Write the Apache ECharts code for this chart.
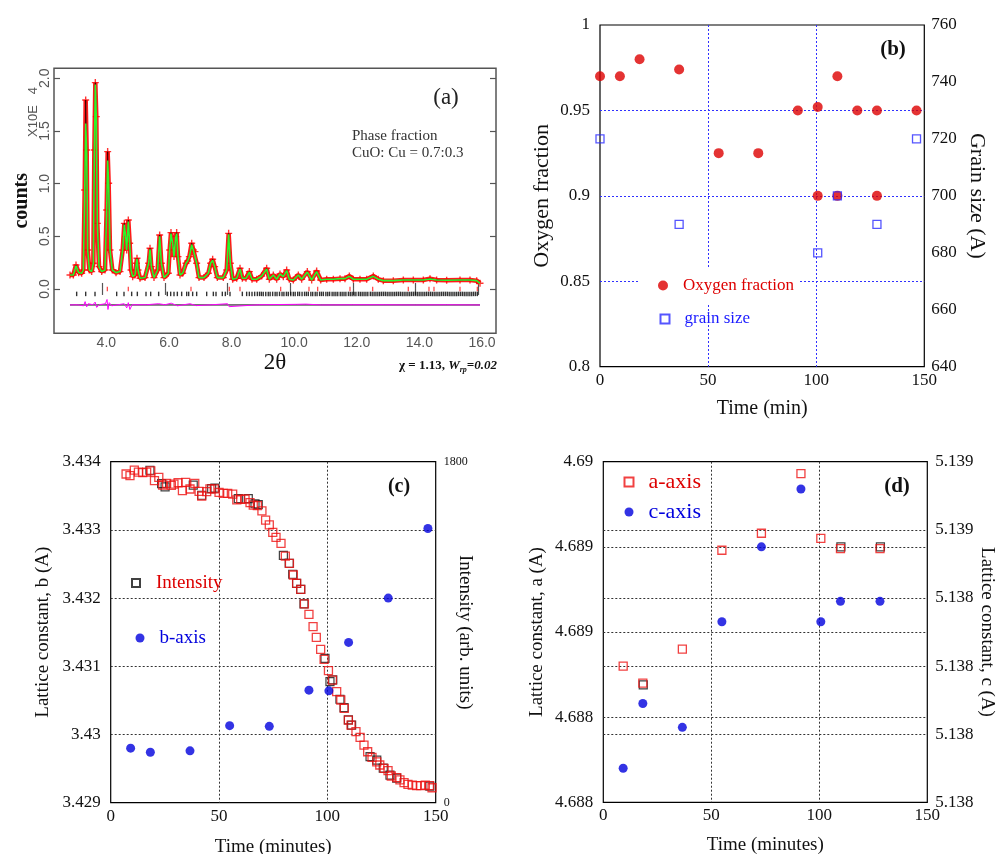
<!DOCTYPE html>
<html><head><meta charset="utf-8">
<script src="https://cdn.jsdelivr.net/npm/echarts@6/dist/echarts.min.js"></script>
<style>html,body{margin:0;padding:0;background:#fff}#c{width:996px;height:854px}</style>
</head><body><div id="c"></div>
<script>
// ===== Panel (a): powder diffraction refinement =====
const obs2Theta = [2.967,3.074,3.159,3.244,3.340,3.393,3.436,3.468,3.500,3.532,3.585,3.659,3.713,3.745,3.776,3.808,3.840,3.894,3.979,4.085,
  4.138,4.170,4.202,4.245,4.319,4.437,4.564,4.650,4.703,4.745,4.777,4.830,4.873,4.916,4.969,5.043,5.086,5.107,5.139,5.203,
  5.363,5.480,5.523,5.565,5.650,5.767,5.831,5.885,5.970,6.108,6.151,6.193,6.246,6.289,6.342,6.374,6.417,6.481,6.566,6.672,
  6.726,6.779,6.854,6.907,6.960,7.013,7.088,7.247,7.386,7.460,7.524,7.588,7.673,7.865,7.972,8.035,8.089,8.163,8.291,8.398,
  8.472,8.589,8.696,8.781,8.930,9.090,9.249,9.334,9.462,9.569,9.675,9.782,9.888,9.973,10.101,10.261,10.367,10.548,10.687,10.846,
  10.974,11.166,11.379,11.592,11.751,11.890,12.018,12.230,12.443,12.656,12.816,12.976,13.295,13.615,13.934,14.254,14.467,14.679,14.999,15.425,
  15.744,15.957,16.064];
const obsCounts = [0.133,0.133,0.228,0.155,0.149,0.180,0.940,1.794,1.320,0.370,0.180,0.165,0.244,1.320,1.959,1.636,0.623,0.212,0.165,0.180,
  0.750,1.304,1.003,0.370,0.180,0.155,0.165,0.370,0.623,0.497,0.370,0.655,0.434,0.180,0.117,0.133,0.244,0.291,0.180,0.101,
  0.108,0.244,0.386,0.212,0.108,0.180,0.513,0.244,0.108,0.149,0.370,0.535,0.434,0.307,0.497,0.535,0.307,0.133,0.149,0.244,
  0.266,0.307,0.434,0.370,0.354,0.244,0.108,0.108,0.149,0.244,0.282,0.212,0.108,0.108,0.180,0.528,0.244,0.092,0.101,0.196,
  0.101,0.101,0.165,0.092,0.092,0.123,0.196,0.092,0.133,0.092,0.142,0.117,0.180,0.092,0.085,0.133,0.092,0.165,0.085,0.171,
  0.085,0.092,0.092,0.098,0.098,0.123,0.092,0.092,0.092,0.123,0.092,0.079,0.079,0.085,0.085,0.085,0.098,0.085,0.082,0.085,
  0.085,0.079,0.054];
const calcCounts = [0.133,0.133,0.220,0.155,0.149,0.180,0.900,1.570,1.300,0.370,0.180,0.165,0.244,1.300,1.940,1.620,0.623,0.212,0.165,0.180,
  0.740,1.220,1.000,0.370,0.180,0.155,0.165,0.370,0.610,0.497,0.370,0.640,0.434,0.180,0.117,0.133,0.244,0.285,0.180,0.101,
  0.108,0.244,0.376,0.212,0.108,0.180,0.500,0.244,0.108,0.149,0.370,0.525,0.434,0.307,0.490,0.525,0.307,0.133,0.149,0.244,
  0.266,0.307,0.420,0.370,0.354,0.244,0.108,0.108,0.149,0.244,0.272,0.212,0.108,0.108,0.180,0.520,0.244,0.092,0.101,0.190,
  0.101,0.101,0.160,0.092,0.092,0.123,0.190,0.092,0.133,0.092,0.142,0.117,0.175,0.092,0.085,0.133,0.092,0.160,0.085,0.165,
  0.085,0.092,0.092,0.098,0.098,0.120,0.092,0.092,0.092,0.120,0.092,0.079,0.079,0.085,0.085,0.085,0.095,0.085,0.082,0.085,
  0.085,0.079,0.054];
const diff2Theta = [2.967,3.20,3.40,3.45,3.50,3.55,3.70,3.77,3.82,3.90,4.10,4.15,4.18,4.22,4.30,4.50,4.70,4.78,4.83,4.88,
  4.95,5.40,5.80,6.00,6.20,6.40,6.80,7.00,7.50,8.00,8.05,8.10,9.00,10.20,10.50,11.00,12.00,13.00,14.00,15.00,16.064];
const diffCounts = [-0.152,-0.150,-0.160,-0.120,-0.170,-0.140,-0.150,-0.125,-0.175,-0.150,-0.140,-0.100,-0.195,-0.130,-0.160,-0.150,-0.140,-0.180,-0.130,-0.195,
  -0.150,-0.150,-0.140,-0.150,-0.135,-0.160,-0.140,-0.158,-0.150,-0.140,-0.168,-0.150,-0.150,-0.146,-0.144,-0.152,-0.150,-0.150,-0.152,-0.150,-0.152];
const diffBaseline = -0.152;
const cuReflections = [4.160,4.830,6.832,8.057,8.397,9.696,10.601,10.878,11.911,12.635,13.774,14.434,14.594,15.425,15.979];
const cuoReflections = [3.180,3.468,3.766,4.458,4.692,4.937,5.118,5.395,5.544,5.799,6.076,6.183,6.289,6.396,6.534,6.694,6.758,6.885,7.013,7.333,
  7.546,7.631,7.833,7.929,8.078,8.472,8.610,8.696,8.781,8.866,8.951,9.02,9.08,9.14,9.22,9.30,9.36,9.44,9.52,9.58,
  9.66,9.74,9.80,9.88,9.94,10.02,10.10,10.16,10.24,10.30,10.38,10.46,10.52,10.58,10.66,10.72,10.80,10.86,10.94,11.00,
  11.06,11.14,11.20,11.26,11.34,11.40,11.46,11.52,11.60,11.66,11.72,11.78,11.86,11.92,11.98,12.04,12.10,12.18,12.24,12.30,
  12.36,12.42,12.48,12.56,12.62,12.68,12.74,12.80,12.86,12.92,12.98,13.04,13.10,13.16,13.22,13.28,13.34,13.40,13.46,13.52,
  13.58,13.64,13.70,13.76,13.82,13.88,13.94,14.00,14.06,14.12,14.18,14.24,14.30,14.36,14.42,14.48,14.54,14.60,14.66,14.72,
  14.78,14.84,14.90,14.96,15.02,15.08,15.14,15.20,15.26,15.32,15.38,15.44,15.50,15.56,15.62,15.68,15.74,15.80,15.86,15.92,15.98];
const cuTickLevel = 0.0;
const cuoTickLevel = -0.047;
const aXTicks = [4,6,8,10,12,14,16];
const aXTickLabels = ['4.0','6.0','8.0','10.0','12.0','14.0','16.0'];
const aYTicks = [0,0.5,1,1.5,2];
const aYTickLabels = ['0.0','0.5','1.0','1.5','2.0'];

// ===== Panel (b): oxygen fraction & grain size =====
const oxyTime = [0,9.2,18.3,36.6,54.9,73.2,91.5,100.7,100.7,109.8,109.8,119.0,128.1,128.1,146.4];
const oxyFraction = [0.970,0.970,0.980,0.974,0.925,0.925,0.950,0.952,0.900,0.970,0.900,0.950,0.950,0.900,0.950];
const grainTime = [0,36.6,100.7,109.8,128.1,146.4];
const grainSize = [720,690,680,700,690,720];
const bTimeLabels = ['0','50','100','150'];
const bLeftLabels = ['0.8','0.85','0.9','0.95','1'];
const bRightLabels = ['640','660','680','700','720','740','760'];

// ===== Panel (c): b-axis & intensity =====
const bAxisTime = [9.2,18.3,36.6,54.9,73.2,91.5,100.7,109.8,128.1,146.4];
const bAxisValue = [3.42980,3.42974,3.42976,3.43013,3.43012,3.43065,3.43064,3.43135,3.43200,3.43302];
const intRedTime = [7.1,8.9,10.9,12.8,14.8,16.6,18.5,20.2,22.2,24.0,25.8,28.0,29.2,31.1,33.1,34.6,36.6,38.8,40.8,42.0,
  44.3,45.8,47.8,50.0,52.0,54.0,56.3,58.2,60.0,62.0,64.3,65.8,67.7,69.8,71.5,73.2,74.8,76.3,78.6,80.6,
  82.5,84.3,85.8,87.7,89.4,91.5,93.4,94.9,96.9,98.5,100.5,102.3,104.3,106.2,107.8,109.7,110.9,113.2,115.1,116.9,
  118.6,120.6,122.8,124.2,126.2,128.0,129.5,132.0,133.5,135.4,137.2,139.2,141.2,143.1,145.2,147.1,148.3];
const intRedValue = [1735,1726,1756,1745,1742,1745,1752,1700,1717,1677,1686,1675,1682,1689,1647,1691,1656,1686,1643,1619,
  1642,1657,1657,1638,1633,1633,1629,1598,1601,1603,1584,1571,1568,1540,1492,1466,1427,1401,1369,1302,
  1263,1202,1158,1126,1049,994,929,873,809,757,697,647,586,542,498,436,410,375,345,304,
  269,239,216,199,181,169,141,132,120,106,97,93,90,90,93,90,79];
const intBlackTime = [18.1,23.5,25.1,38.1,42.0,46.6,48.1,58.9,63.5,66.6,68.1,79.7,82.4,84.0,85.8,87.7,89.2,98.9,101.2,102.5,
  105.8,107.7,109.7,111.2,119.7,122.8,125.8,128.9,132.0,147.3];
const intBlackValue = [1755,1684,1667,1676,1623,1658,1661,1605,1605,1578,1573,1306,1264,1206,1158,1126,1049,762,639,648,
  546,502,437,410,243,225,183,146,130,88];
const cLeftLabels = ['3.429','3.43','3.431','3.432','3.433','3.434'];
const cRightLabels = ['0','1800'];

// ===== Panel (d): a- and c-axis =====
const dTime = [9.2,18.3,36.6,54.9,73.2,91.5,100.7,109.8,128.1];
const aAxisValue = [4.68880,4.68870,4.68890,4.68948,4.68958,4.68993,4.68955,4.68949,4.68949];
const aBlackTime = [18.5,110.0,128.3];
const aBlackValue = [4.68869,4.68950,4.68950];
const cAxisValue = [5.13790,5.13809,5.13802,5.13833,5.13855,5.13872,5.13833,5.13839,5.13839];
const dLeftLabels = ['4.688','4.688','4.689','4.689','4.69'];
const dRightLabels = ['5.138','5.138','5.138','5.138','5.139','5.139'];

// ===== chart =====
const SERIF = "'Liberation Serif','Times New Roman',serif";
const SANS = "'Liberation Sans',Arial,sans-serif";
const PLUS = 'path://M4,0L6,0L6,4L10,4L10,6L6,6L6,10L4,10L4,6L0,6L0,4L4,4Z';
const zip = (xs, ys) => xs.map((x, i) => [x, ys[i]]);
const idxFmt = arr => (v, i) => arr[i];
const lookupFmt = (vals, labs) => v => labs[vals.indexOf(v)];
const HOLLOW = 'rgba(255,255,255,0)';

const noLine = {show: false};
const dotted = c => ({show: true, showMinLine: false, showMaxLine: false, lineStyle: {color: c, type: [2, 2], width: 1}});

function timeAxis(grid, name, gap, fs) {
  return {gridIndex: grid, type: 'value', min: 0, max: 150, interval: 50,
    axisLine: noLine, axisTick: {show: false},
    axisLabel: {formatter: idxFmt(bTimeLabels), margin: 5, fontSize: 17, fontFamily: SERIF, color: '#111'},
    splitLine: dotted(grid === 1 ? '#3030ff' : '#333'),
    name: name, nameLocation: 'middle', nameGap: gap, nameMoveOverlap: false,
    nameTextStyle: {fontSize: fs, fontFamily: SERIF, color: '#111'}};
}

const option = {
  animation: false,
  backgroundColor: '#fff',
  grid: [
    {left: 54, top: 68.3, width: 442, height: 265, show: true, borderColor: '#555', borderWidth: 1.5, backgroundColor: HOLLOW, containLabel: false, outerBoundsMode: 'none'},
    {left: 600, top: 25, width: 324.3, height: 341.7, show: true, borderColor: '#000', borderWidth: 1.2, backgroundColor: HOLLOW, containLabel: false, outerBoundsMode: 'none'},
    {left: 110.7, top: 461.7, width: 325, height: 341, show: true, borderColor: '#000', borderWidth: 1.2, backgroundColor: HOLLOW, containLabel: false, outerBoundsMode: 'none'},
    {left: 603.3, top: 461.7, width: 324, height: 340.6, show: true, borderColor: '#000', borderWidth: 1.2, backgroundColor: HOLLOW, containLabel: false, outerBoundsMode: 'none'}
  ],
  xAxis: [
    {gridIndex: 0, type: 'value', min: 2.456, max: 16.575, axisLine: noLine,
      axisTick: {show: true, inside: true, length: 6, customValues: aXTicks, lineStyle: {color: '#555', width: 1.2}},
      axisLabel: {customValues: aXTicks, formatter: lookupFmt(aXTicks, aXTickLabels), margin: 3, padding: [0, 0, 0, 8], fontSize: 14, fontFamily: SANS, color: '#555'},
      splitLine: {show: false},
      name: '2θ', nameLocation: 'middle', nameGap: 18, nameMoveOverlap: false,
      nameTextStyle: {fontSize: 23, fontFamily: SERIF, color: '#111'}},
    {gridIndex: 0, type: 'value', position: 'top', min: 2.456, max: 16.575, axisLine: noLine,
      axisTick: {show: true, inside: true, length: 6, customValues: aXTicks, lineStyle: {color: '#555', width: 1.2}},
      axisLabel: {show: false}, splitLine: {show: false}},
    timeAxis(1, 'Time (min)', 32, 20),
    timeAxis(2, 'Time (minutes)', 35, 19),
    timeAxis(3, 'Time (minutes)', 33, 19)
  ],
  yAxis: [
    {gridIndex: 0, type: 'value', min: -0.421, max: 2.095, axisLine: noLine,
      axisTick: {show: true, inside: true, length: 6, customValues: aYTicks, lineStyle: {color: '#555', width: 1.2}},
      axisLabel: {customValues: aYTicks, formatter: lookupFmt(aYTicks, aYTickLabels), rotate: 90, margin: 2, fontSize: 14, fontFamily: SANS, color: '#555'},
      splitLine: {show: false},
      name: 'counts', nameLocation: 'middle', nameGap: 22, nameMoveOverlap: false,
      nameTextStyle: {fontSize: 20, fontWeight: 'bold', fontFamily: SERIF, color: '#111'}},
    {gridIndex: 0, type: 'value', position: 'right', min: -0.421, max: 2.095, axisLine: noLine,
      axisTick: {show: true, inside: true, length: 6, customValues: aYTicks, lineStyle: {color: '#555', width: 1.2}},
      axisLabel: {show: false}, splitLine: {show: false}},
    {gridIndex: 1, type: 'value', min: 0.8, max: 1, interval: 0.05, axisLine: noLine, axisTick: {show: false},
      axisLabel: {formatter: idxFmt(bLeftLabels), margin: 10, fontSize: 17, fontFamily: SERIF, color: '#111'},
      splitLine: dotted('#3030ff'),
      name: 'Oxygen fraction', nameLocation: 'middle', nameGap: 47, nameMoveOverlap: false,
      nameTextStyle: {fontSize: 22, fontFamily: SERIF, color: '#111'}},
    {gridIndex: 1, type: 'value', position: 'right', min: 640, max: 760, interval: 20, axisLine: noLine, axisTick: {show: false},
      axisLabel: {formatter: idxFmt(bRightLabels), margin: 7, fontSize: 17, fontFamily: SERIF, color: '#111'},
      splitLine: {show: false},
      name: 'Grain size (A)', nameLocation: 'middle', nameRotate: -90, nameGap: 41, nameMoveOverlap: false,
      nameTextStyle: {fontSize: 22, fontFamily: SERIF, color: '#111'}},
    {gridIndex: 2, type: 'value', min: 3.429, max: 3.434, interval: 0.001, axisLine: noLine, axisTick: {show: false},
      axisLabel: {formatter: idxFmt(cLeftLabels), margin: 10, fontSize: 17, fontFamily: SERIF, color: '#111'},
      splitLine: dotted('#333'),
      name: 'Lattice constant, b (A)', nameLocation: 'middle', nameGap: 58, nameMoveOverlap: false,
      nameTextStyle: {fontSize: 19, fontFamily: SERIF, color: '#111'}},
    {gridIndex: 2, type: 'value', position: 'right', min: 0, max: 1800, interval: 1800, axisLine: noLine, axisTick: {show: false},
      axisLabel: {formatter: idxFmt(cRightLabels), margin: 8, fontSize: 12, fontFamily: SERIF, color: '#111'},
      splitLine: {show: false},
      name: 'Intensity (arb. units)', nameLocation: 'middle', nameRotate: -90, nameGap: 20, nameMoveOverlap: false,
      nameTextStyle: {fontSize: 19, fontFamily: SERIF, color: '#111'}},
    {gridIndex: 3, type: 'value', min: 4.688, max: 4.690, interval: 0.0005, axisLine: noLine, axisTick: {show: false},
      axisLabel: {formatter: idxFmt(dLeftLabels), margin: 10, fontSize: 17, fontFamily: SERIF, color: '#111'},
      splitLine: dotted('#333'),
      name: 'Lattice constant, a (A)', nameLocation: 'middle', nameGap: 57, nameMoveOverlap: false,
      nameTextStyle: {fontSize: 19, fontFamily: SERIF, color: '#111'}},
    {gridIndex: 3, type: 'value', position: 'right', min: 5.1378, max: 5.1388, interval: 0.0002, axisLine: noLine, axisTick: {show: false},
      axisLabel: {formatter: idxFmt(dRightLabels), margin: 8, fontSize: 17, fontFamily: SERIF, color: '#111'},
      splitLine: dotted('#333'),
      name: 'Lattice constant, c (A)', nameLocation: 'middle', nameRotate: -90, nameGap: 50, nameMoveOverlap: false,
      nameTextStyle: {fontSize: 19, fontFamily: SERIF, color: '#111'}}
  ],
  legend: [
    {data: [{name: 'Oxygen fraction', textStyle: {color: '#dd0000'}}], orient: 'vertical', left: 638, top: 268,
      padding: [9, 6, 9, 20], backgroundColor: '#fff', itemWidth: 10, itemHeight: 10, selectedMode: false,
      textStyle: {fontFamily: SERIF, fontSize: 17, padding: [0, 0, 0, 10]}},
    {data: [{name: 'grain size', textStyle: {color: '#1a1aff'}}], orient: 'vertical', left: 659.5, top: 310.5,
      padding: 0, itemWidth: 9, itemHeight: 9, selectedMode: false,
      textStyle: {fontFamily: SERIF, fontSize: 17, padding: [0, 0, 0, 10]}},
    {data: [{name: 'Intensity', textStyle: {color: '#dd0000'}}], orient: 'vertical', left: 131, top: 573.5,
      padding: 0, itemWidth: 8, itemHeight: 8, selectedMode: false,
      textStyle: {fontFamily: SERIF, fontSize: 19, padding: [0, 0, 0, 11]}},
    {data: [{name: 'b-axis', textStyle: {color: '#0000dd'}}], orient: 'vertical', left: 135.5, top: 628.5,
      padding: 0, itemWidth: 9, itemHeight: 9, selectedMode: false,
      textStyle: {fontFamily: SERIF, fontSize: 19, padding: [0, 0, 0, 10]}},
    {data: [{name: 'a-axis', textStyle: {color: '#dd0000'}}, {name: 'c-axis', textStyle: {color: '#0000dd'}}],
      orient: 'vertical', left: 623.5, top: 471, itemGap: 8,
      padding: 0, itemWidth: 9, itemHeight: 9, selectedMode: false,
      textStyle: {fontFamily: SERIF, fontSize: 22, padding: [0, 0, 0, 10]}}
  ],
  graphic: [
    {type: 'text', x: 446, y: 98, style: {text: '(a)', font: "23px 'Liberation Serif'", fill: '#222', align: 'center', verticalAlign: 'middle'}},
    {type: 'text', x: 352, y: 136, style: {text: 'Phase fraction', font: "15px 'Liberation Serif'", fill: '#333', align: 'left', verticalAlign: 'middle'}},
    {type: 'text', x: 352, y: 153, style: {text: 'CuO: Cu = 0.7:0.3', font: "15px 'Liberation Serif'", fill: '#333', align: 'left', verticalAlign: 'middle'}},
    {type: 'text', x: 33, y: 112, rotation: Math.PI / 2, style: {text: 'X10E   4', font: "13px 'Liberation Sans'", fill: '#555', align: 'center', verticalAlign: 'middle'}},
    {type: 'text', x: 497, y: 366, style: {
      text: '{b|χ = 1.13, }{i|W}{s|rp}{i|=0.02}', align: 'right', verticalAlign: 'middle',
      rich: {
        b: {font: "bold 13px 'Liberation Serif'", fill: '#111', lineHeight: 16, verticalAlign: 'middle'},
        i: {font: "italic bold 13px 'Liberation Serif'", fill: '#111', lineHeight: 16, verticalAlign: 'middle'},
        s: {font: "italic bold 8px 'Liberation Serif'", fill: '#111', lineHeight: 16, verticalAlign: 'bottom'}
      }}},
    {type: 'text', x: 893, y: 50, style: {text: '(b)', font: "bold 21px 'Liberation Serif'", fill: '#111', align: 'center', verticalAlign: 'middle'}},
    {type: 'text', x: 399, y: 487, style: {text: '(c)', font: "bold 20px 'Liberation Serif'", fill: '#111', align: 'center', verticalAlign: 'middle'}},
    {type: 'text', x: 897, y: 487, style: {text: '(d)', font: "bold 21px 'Liberation Serif'", fill: '#111', align: 'center', verticalAlign: 'middle'}}
  ],
  series: [
    // (a)
    {type: 'line', name: 'obsBand', xAxisIndex: 0, yAxisIndex: 0, data: zip(obs2Theta, obsCounts), symbol: 'none', silent: true,
      lineStyle: {color: '#ff1a1a', width: 4.5}, z: 2},
    {type: 'scatter', name: 'observed', xAxisIndex: 0, yAxisIndex: 0, data: zip(obs2Theta, obsCounts), symbol: PLUS, symbolSize: 7,
      itemStyle: {color: '#ff0000'}, z: 3, silent: true},
    {type: 'line', name: 'obsCore', xAxisIndex: 0, yAxisIndex: 0, data: zip(obs2Theta, obsCounts), symbol: 'none', silent: true,
      lineStyle: {color: '#000', width: 1, opacity: 0.6}, z: 4},
    {type: 'line', name: 'calculated', xAxisIndex: 0, yAxisIndex: 0, data: zip(obs2Theta, calcCounts), symbol: 'none', silent: true,
      lineStyle: {color: '#2cf52c', width: 1.6}, z: 5},
    {type: 'scatter', name: 'Cu reflections', xAxisIndex: 0, yAxisIndex: 0, data: cuReflections.map(x => [x, cuTickLevel]),
      symbol: 'rect', symbolSize: [1.3, 4.5], itemStyle: {color: '#ff2020'}, silent: true},
    {type: 'scatter', name: 'CuO reflections', xAxisIndex: 0, yAxisIndex: 0, data: cuoReflections.map(x => [x, cuoTickLevel]),
      symbol: 'rect', symbolSize: [1.4, 4.5], itemStyle: {color: '#000'}, silent: true},
    {type: 'line', name: 'diffZero', xAxisIndex: 0, yAxisIndex: 0,
      data: [[obs2Theta[0], diffBaseline], [obs2Theta[obs2Theta.length - 1], diffBaseline]], symbol: 'none', silent: true,
      lineStyle: {color: '#000', width: 1}},
    {type: 'line', name: 'difference', xAxisIndex: 0, yAxisIndex: 0, data: zip(diff2Theta, diffCounts), symbol: 'none', silent: true,
      lineStyle: {color: '#ff00ff', width: 1}},
    // (b)
    {type: 'scatter', name: 'Oxygen fraction', xAxisIndex: 2, yAxisIndex: 2, data: zip(oxyTime, oxyFraction),
      symbol: 'circle', symbolSize: 10, itemStyle: {color: '#dd0000'}},
    {type: 'scatter', name: 'grain size', xAxisIndex: 2, yAxisIndex: 3, data: zip(grainTime, grainSize),
      symbol: 'rect', symbolSize: 8, itemStyle: {color: HOLLOW, borderColor: '#2a2aff', borderWidth: 1.3}},
    // (c)
    {type: 'scatter', name: 'Intensity', xAxisIndex: 3, yAxisIndex: 5, data: zip(intBlackTime, intBlackValue),
      symbol: 'rect', symbolSize: 8, itemStyle: {color: HOLLOW, borderColor: '#111', borderWidth: 1.2}},
    {type: 'scatter', name: 'Intensity (red)', xAxisIndex: 3, yAxisIndex: 5, data: zip(intRedTime, intRedValue),
      symbol: 'rect', symbolSize: 8, itemStyle: {color: HOLLOW, borderColor: '#ee1111', borderWidth: 1.3}},
    {type: 'scatter', name: 'b-axis', xAxisIndex: 3, yAxisIndex: 4, data: zip(bAxisTime, bAxisValue),
      symbol: 'circle', symbolSize: 9, itemStyle: {color: '#0000dd'}},
    // (d)
    {type: 'scatter', name: 'a-axis black', xAxisIndex: 4, yAxisIndex: 6, data: zip(aBlackTime, aBlackValue),
      symbol: 'rect', symbolSize: 8, itemStyle: {color: HOLLOW, borderColor: '#111', borderWidth: 1.2}},
    {type: 'scatter', name: 'a-axis', xAxisIndex: 4, yAxisIndex: 6, data: zip(dTime, aAxisValue),
      symbol: 'rect', symbolSize: 8, itemStyle: {color: HOLLOW, borderColor: '#ee1111', borderWidth: 1.3}},
    {type: 'scatter', name: 'c-axis', xAxisIndex: 4, yAxisIndex: 7, data: zip(dTime, cAxisValue),
      symbol: 'circle', symbolSize: 9, itemStyle: {color: '#0000dd'}}
  ]
};
echarts.init(document.getElementById('c')).setOption(option);
</script>
</body></html>
